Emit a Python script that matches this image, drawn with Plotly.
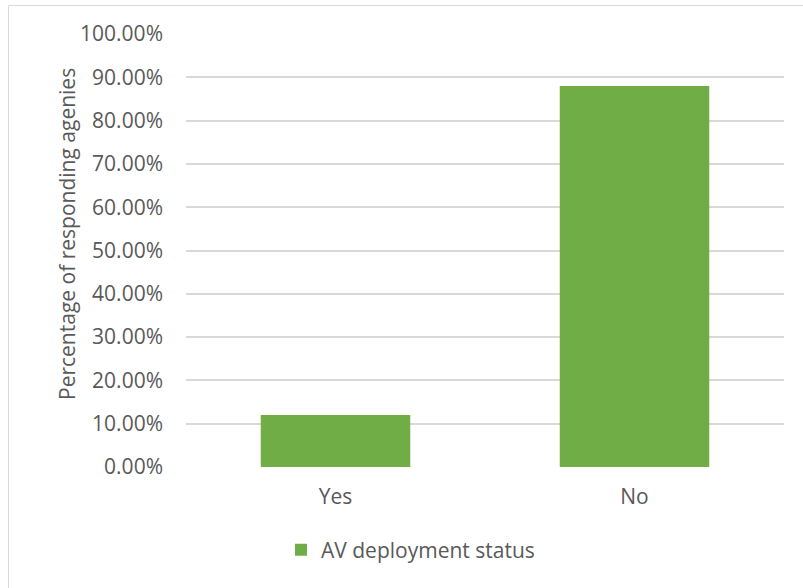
import plotly.graph_objects as go

categories = ["Yes", "No"]
values = [0.12, 0.88]
series_name = "AV deployment status"
y_title = "Percentage of responding agenies"
y_ticks = [i / 10 for i in range(11)]

W, H = 803, 588
L, R, T, B = 186, 19, 34, 121
pw, ph = W - L - R, H - T - B

def px_x(x):
    return (x - L) / pw

def px_y(y):
    return (H - B - y) / ph

font_family = "Open Sans, Lato, sans-serif"
gray = "#595959"
fs = 21

fig = go.Figure()
fig.add_trace(go.Bar(
    x=categories, y=values, name=series_name,
    marker=dict(color="#70ad47", line=dict(width=0)),
    width=0.5, showlegend=True,
))

fig.update_layout(
    width=W, height=H,
    margin=dict(l=L, r=R, t=T, b=B, autoexpand=False),
    paper_bgcolor="white", plot_bgcolor="white",
    font=dict(family=font_family, size=fs, color=gray),
    showlegend=True,
    legend=dict(orientation="h", x=px_x(281), xanchor="left",
                y=px_y(550), yanchor="middle",
                font=dict(size=fs, color=gray), itemwidth=30,
                bgcolor="rgba(0,0,0,0)"),
    xaxis=dict(showgrid=False, showline=False, zeroline=False,
               ticks="", ticklabelstandoff=15,
               tickfont=dict(size=fs, color=gray)),
    yaxis=dict(range=[0, 1], tickvals=y_ticks, tickformat=".2%",
               showgrid=True, gridcolor="#d9d9d9", gridwidth=1.5,
               zeroline=False, showline=False, ticks="",
               ticklabelstandoff=22,
               tickfont=dict(size=fs, color=gray)),
    shapes=[dict(type="rect", xref="paper", yref="paper",
                 x0=px_x(8.5), x1=px_x(812), y0=px_y(600), y1=px_y(5.5),
                 line=dict(color="#d9d9d9", width=1), layer="below")],
    annotations=[dict(text=y_title, xref="paper", yref="paper",
                      x=px_x(67), y=px_y(234), textangle=-90,
                      showarrow=False, xanchor="center", yanchor="middle",
                      font=dict(size=fs, color=gray))],
)

fig.write_html("out.html",
               config={"displayModeBar": False},
               post_script="document.body.style.margin='0';")
